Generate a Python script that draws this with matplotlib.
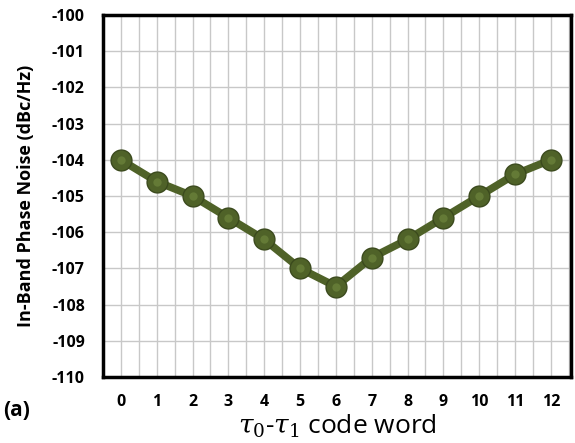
import matplotlib.pyplot as plt
import numpy as np

# Data
code_word = [0, 1, 2, 3, 4, 5, 6, 7, 8, 9, 10, 11, 12]
phase_noise = [-104.0, -104.6, -105.0, -105.6, -106.2, -107.0, -107.5,
               -106.7, -106.2, -105.6, -105.0, -104.4, -104.0]
y_ticks = [-110, -109, -108, -107, -106, -105, -104, -103, -102, -101, -100]

plt.rcParams['font.family'] = ['Open Sans', 'DejaVu Sans']
plt.rcParams['axes.unicode_minus'] = False
plt.rcParams['mathtext.fontset'] = 'dejavuserif'

fig = plt.figure(figsize=(5.75, 4.43), dpi=100)
ax = fig.add_axes([0.179, 0.149, 0.814, 0.817])

# Line with ball-like markers
ax.plot(code_word, phase_noise, color='#4F6228', linewidth=5.5, zorder=3,
        solid_capstyle='round')
ax.plot(code_word, phase_noise, linestyle='none', marker='o', markersize=15,
        markerfacecolor='#4F6228', markeredgecolor='#3B4A1D',
        markeredgewidth=1.0, zorder=4)
ax.plot(code_word, phase_noise, linestyle='none', marker='o', markersize=6,
        markerfacecolor='#647A36', markeredgecolor='none', zorder=5)

ax.set_xlim(-0.47, 12.56)
ax.set_ylim(-110, -100)
ax.set_xticks(code_word)
ax.set_xticks(np.arange(-0.5, 12.6, 0.5), minor=True)
ax.set_yticks(y_ticks)
ax.grid(which='both', axis='x', color='#C8C8C8', linewidth=1.0)
ax.grid(which='major', axis='y', color='#C8C8C8', linewidth=1.0)
ax.set_axisbelow(True)

ax.tick_params(which='both', length=0)
ax.tick_params(axis='y', pad=13)
ax.tick_params(axis='x', pad=12)
for lbl in ax.get_xticklabels() + ax.get_yticklabels():
    lbl.set_fontweight('bold')
    lbl.set_fontsize(11.5)

for sp in ax.spines.values():
    sp.set_linewidth(2.5)
    sp.set_color('black')

ax.set_ylabel('In-Band Phase Noise (dBc/Hz)', fontsize=13, fontweight='bold',
              labelpad=12)
ax.set_xlabel(r'$\tau_0$-$\tau_1$ code word', fontsize=19, labelpad=2)
fig.text(0.005, 0.06, '(a)', fontsize=15, fontweight='bold')

fig.savefig('out.png', dpi=100)
